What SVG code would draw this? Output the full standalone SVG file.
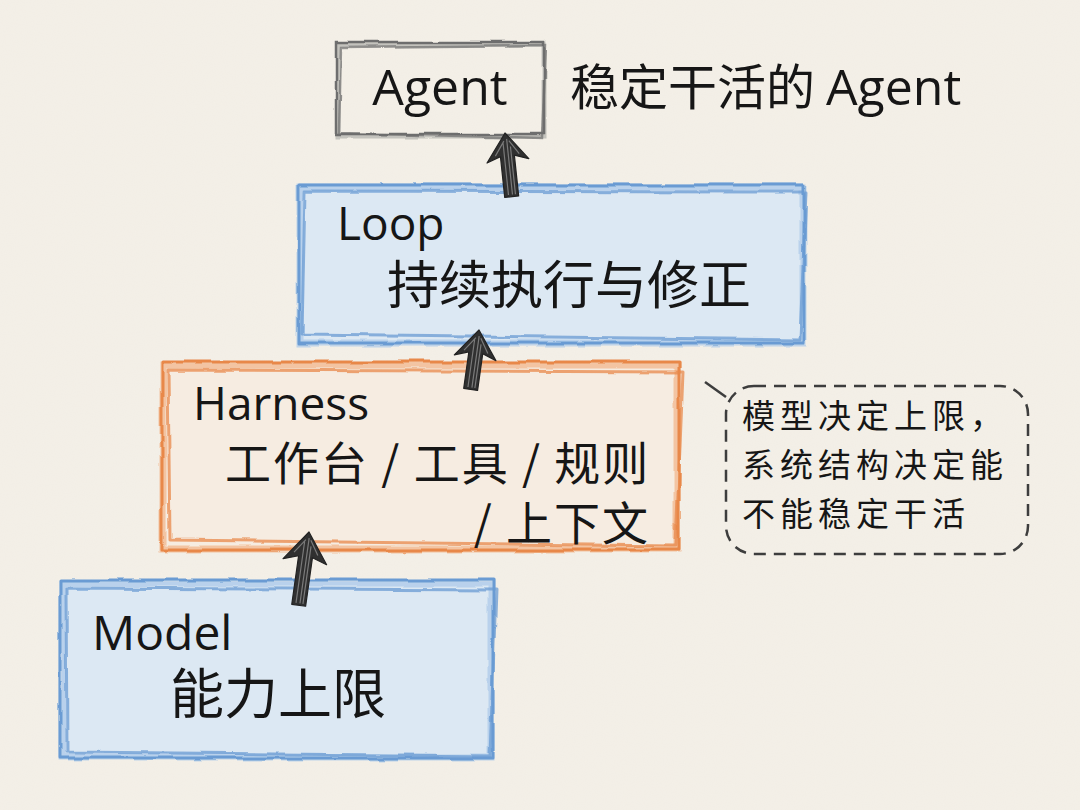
<svg xmlns="http://www.w3.org/2000/svg" width="1080" height="810" viewBox="0 0 1080 810">
<defs>
<filter id="rough" x="-5%" y="-5%" width="110%" height="110%">
<feTurbulence type="fractalNoise" baseFrequency="0.035" numOctaves="2" seed="3" result="n"/>
<feDisplacementMap in="SourceGraphic" in2="n" scale="5" xChannelSelector="R" yChannelSelector="G"/>
</filter>
<filter id="paper" x="0" y="0" width="100%" height="100%">
<feTurbulence type="fractalNoise" baseFrequency="0.9" numOctaves="2" seed="7" result="t"/>
<feColorMatrix in="t" type="matrix" values="0 0 0 0 0.55  0 0 0 0 0.5  0 0 0 0 0.42  0 0 0 0.05 0"/>
</filter>
<style>
.lat{font-family:"Open Sans","Noto Sans",sans-serif;fill:#161616}
.cjk{font-family:"Noto Sans CJK SC","Noto Sans",sans-serif;fill:#161616}
.blue{fill:none;stroke:#6a9bd3;stroke-width:3;stroke-linejoin:round}
.bluehalo{fill:none;stroke:#a9c8e8;stroke-width:7;opacity:.7}
.orange{fill:none;stroke:#e8884a;stroke-width:3;stroke-linejoin:round}
.orangehalo{fill:none;stroke:#f2b487;stroke-width:7;opacity:.7}
.gray{fill:none;stroke:#6e6e6e;stroke-width:2.5}
.grayhalo{fill:none;stroke:#b0b0ad;stroke-width:5;opacity:.7}
.arr{fill:#303030;stroke:#222;stroke-width:1.2;stroke-linejoin:round}
.hatch{stroke:#7a7a7a;stroke-width:1.2;fill:none}
</style>
</defs>
<rect width="1080" height="810" fill="#f4f0e8"/>
<rect width="1080" height="810" filter="url(#paper)"/>

<g id="agent">
<g filter="url(#rough)">
<rect x="338" y="44" width="206" height="92" class="grayhalo"/>
<rect x="336" y="42" width="208" height="92" class="gray"/>
<path d="M341 47 L546 45 L542 138 L339 133 Z" class="gray" opacity=".7"/>
</g>
<text x="440" y="105" text-anchor="middle" class="lat" font-size="50">Agent</text>
</g>
<text id="agent-label" x="570" y="105" class="cjk" font-size="49">稳定干活的 <tspan class="lat" font-size="50">Agent</tspan></text>

<g id="loop">
<rect x="300" y="186" width="504" height="158" fill="#dce8f3"/>
<g filter="url(#rough)">
<rect x="300" y="187" width="503" height="156" class="bluehalo"/>
<rect x="299" y="185" width="505" height="158" class="blue"/>
<path d="M305 191 L806 192 L800 340 L302 334 Z" class="blue" opacity=".75"/>
</g>
<text x="337" y="240" class="lat" font-size="46">Loop</text>
<text x="387" y="304" class="cjk" font-size="52">持续执行与修正</text>
</g>

<g id="harness">
<rect x="163" y="364" width="515" height="186" fill="#f6ece1"/>
<g filter="url(#rough)">
<rect x="163" y="365" width="514" height="184" class="orangehalo"/>
<rect x="162" y="362" width="517" height="188" class="orange"/>
<path d="M168 370 L683 372 L676 546 L170 540 Z" class="orange" opacity=".75"/>
</g>
<text x="193" y="420" class="lat" font-size="46">Harness</text>
<text x="225" y="480" class="cjk" font-size="46" letter-spacing="2">工作台 / 工具 / 规则</text>
<text x="650" y="540" text-anchor="end" class="cjk" font-size="46" letter-spacing="2">/ 上下文</text>
</g>

<g id="model">
<rect x="62" y="582" width="430" height="176" fill="#dce8f3"/>
<g filter="url(#rough)">
<rect x="62" y="583" width="429" height="174" class="bluehalo"/>
<rect x="60" y="580" width="433" height="178" class="blue"/>
<path d="M66 588 L496 590 L490 756 L67 752 Z" class="blue" opacity=".75"/>
</g>
<text x="92" y="650" class="lat" font-size="48">Model</text>
<text x="170" y="714" class="cjk" font-size="54">能力上限</text>
</g>

<g id="note">
<rect x="726" y="386" width="302" height="168" rx="28" fill="none" stroke="#3d3d3d" stroke-width="2.5" stroke-dasharray="12 8"/>
<text x="742" y="428" class="cjk" font-size="33" letter-spacing="5">模型决定上限，</text>
<text x="742" y="477" class="cjk" font-size="33" letter-spacing="5">系统结构决定能</text>
<text x="742" y="526" class="cjk" font-size="33" letter-spacing="5">不能稳定干活</text>
</g>

<g id="connectors">
<line x1="705" y1="382" x2="726" y2="397" stroke="#3d3d3d" stroke-width="2.5"/>
<g transform="translate(505,133) rotate(-6)">
<path class="arr" d="M0 0 L21 28 L7 23 L7 64 L-7 64 L-7 23 L-21 28 Z"/>
<path class="hatch" d="M-3 10 L-3 62 M1 6 L1 62 M4 14 L4 62 M-12 22 L-2 8 M12 22 L3 8"/>
</g>
<g transform="translate(479,330) rotate(8)">
<path class="arr" d="M0 0 L21 28 L7 23 L7 60 L-7 60 L-7 23 L-21 28 Z"/>
<path class="hatch" d="M-3 10 L-3 58 M1 6 L1 58 M4 14 L4 58 M-12 22 L-2 8 M12 22 L3 8"/>
</g>
<g transform="translate(309,532) rotate(8)">
<path class="arr" d="M0 0 L22 30 L7 25 L7 74 L-7 74 L-7 25 L-22 30 Z"/>
<path class="hatch" d="M-3 10 L-3 72 M1 6 L1 72 M4 14 L4 72 M-12 22 L-2 8 M12 22 L3 8"/>
</g>
</g>
</svg>
